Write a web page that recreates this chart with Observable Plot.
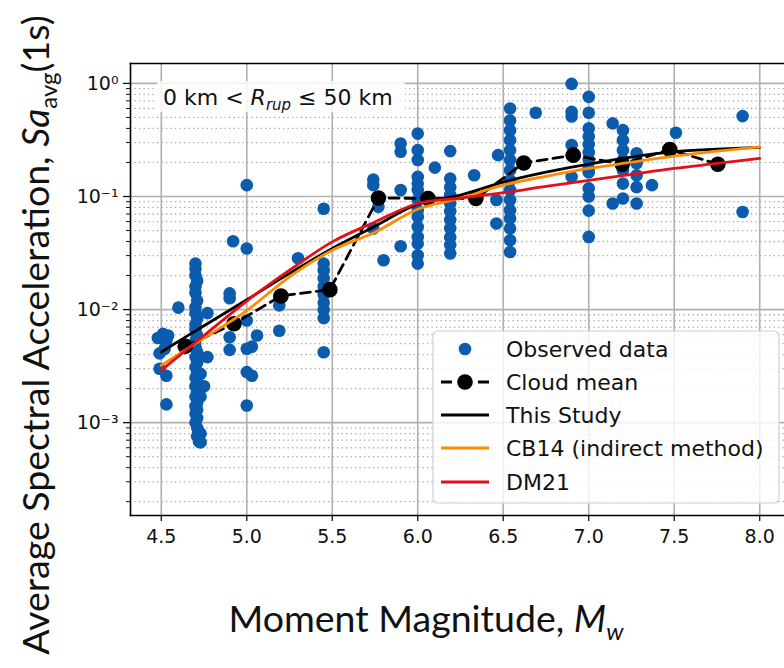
<!DOCTYPE html>
<html><head><meta charset="utf-8">
<script src="https://cdn.jsdelivr.net/npm/d3@7"></script>
<script src="https://cdn.jsdelivr.net/npm/@observablehq/plot@0.6"></script>
<style>
html,body{margin:0;padding:0;background:#fff;overflow:hidden}
svg{display:block}
</style>
</head><body><div id="chart"></div>
<script>
// ---------- data ----------
const observed = [
  [4.51,0.0061],[4.54,0.0059],[4.48,0.0056],[4.53,0.0053],[4.52,0.0045],[4.49,0.0041],[4.49,0.0030],[4.53,0.0026],[4.53,0.00145],[4.60,0.0104],
  [4.70,0.0255],[4.70,0.023],[4.70,0.020],[4.71,0.018],[4.70,0.016],[4.70,0.014],[4.71,0.012],[4.70,0.0105],[4.70,0.0093],[4.71,0.0083],
  [4.70,0.0074],[4.70,0.0066],[4.71,0.0059],[4.70,0.0053],[4.70,0.0047],[4.71,0.0042],[4.70,0.0038],[4.71,0.0034],[4.70,0.0031],[4.71,0.0028],
  [4.70,0.0025],[4.71,0.0023],[4.70,0.0021],[4.71,0.0019],[4.70,0.0017],[4.71,0.0015],[4.70,0.0014],[4.71,0.0013],[4.70,0.0012],[4.71,0.0011],
  [4.70,0.0010],[4.71,0.0009],[4.72,0.00082],[4.71,0.00076],[4.72,0.00068],
  [4.77,0.0093],[4.77,0.0038],[4.73,0.0027],[4.75,0.0021],[4.73,0.0017],[4.73,0.0008],[4.73,0.00067],
  [4.90,0.0139],[4.90,0.0126],[4.90,0.0057],[4.90,0.0044],[4.92,0.0402],[5.00,0.0347],[5.00,0.126],[5.00,0.0080],[5.00,0.0045],
  [5.03,0.0047],[5.00,0.0028],[5.03,0.0026],[5.00,0.00142],[5.06,0.0059],
  [5.19,0.0129],[5.19,0.0109],[5.19,0.0065],[5.30,0.0284],
  [5.45,0.078],[5.45,0.0255],[5.45,0.0223],[5.45,0.0189],[5.45,0.016],[5.45,0.0136],[5.45,0.0115],[5.45,0.0099],[5.45,0.0084],[5.45,0.0042],
  [5.74,0.141],[5.74,0.126],[5.77,0.081],[5.74,0.052],[5.80,0.0273],[5.90,0.114],[5.90,0.0363],[5.90,0.294],[5.90,0.249],
  [6.00,0.36],[6.00,0.257],[6.00,0.21],[6.00,0.149],[6.00,0.13],[6.00,0.114],[6.00,0.093],[6.00,0.0757],[6.00,0.066],[6.00,0.0538],
  [6.00,0.0439],[6.00,0.0383],[6.00,0.0302],[6.00,0.0255],
  [6.10,0.18],[6.19,0.252],[6.19,0.144],[6.19,0.121],[6.19,0.103],[6.19,0.087],[6.19,0.074],[6.19,0.062],[6.19,0.0525],[6.19,0.0437],
  [6.19,0.0372],[6.19,0.0313],[6.33,0.154],[6.46,0.0577],[6.46,0.093],[6.47,0.232],
  [6.54,0.60],[6.54,0.47],[6.54,0.385],[6.54,0.315],[6.54,0.257],[6.54,0.21],[6.54,0.171],[6.54,0.139],[6.54,0.114],[6.54,0.093],
  [6.54,0.0757],[6.54,0.0638],[6.54,0.052],[6.54,0.041],[6.54,0.0323],[6.69,0.55],
  [6.90,0.99],[6.90,0.56],[6.90,0.51],[6.90,0.285],[6.90,0.232],[6.90,0.149],
  [7.00,0.76],[7.00,0.55],[7.00,0.40],[7.00,0.34],[7.00,0.29],[7.00,0.246],[7.00,0.21],[7.00,0.177],[7.00,0.164],[7.00,0.118],
  [7.00,0.10],[7.00,0.075],[7.00,0.0439],
  [7.14,0.443],[7.14,0.0867],[7.20,0.386],[7.20,0.315],[7.20,0.257],[7.20,0.21],[7.20,0.171],[7.20,0.13],[7.20,0.096],
  [7.28,0.241],[7.28,0.197],[7.28,0.154],[7.28,0.121],[7.28,0.0867],[7.37,0.126],
  [7.51,0.366],[7.90,0.514],[7.90,0.0729]
];

const cloudMag = [4.64, 4.925, 5.20, 5.486, 5.77, 6.06, 6.34, 6.62, 6.91, 7.196, 7.474, 7.755];
const cloudSa  = [0.00473, 0.0075, 0.0132, 0.0150, 0.097, 0.096, 0.096, 0.198, 0.232, 0.193, 0.26, 0.193];

const curveMag  = [4.5, 4.75, 5.0, 5.25, 5.5, 5.75, 6.0, 6.25, 6.5, 6.75, 7.0, 7.25, 7.5, 7.75, 8.0];
const thisStudy = [0.00421, 0.0072, 0.0122, 0.0209, 0.0347, 0.0546, 0.0855, 0.103, 0.134, 0.164, 0.193, 0.223, 0.249, 0.262, 0.272];
const cb14      = [0.00321, 0.0056, 0.0098, 0.0195, 0.0335, 0.0483, 0.0772, 0.0966, 0.126, 0.151, 0.177, 0.201, 0.227, 0.252, 0.275];
const dm21      = [0.0029, 0.0059, 0.0119, 0.0223, 0.0397, 0.0596, 0.0867, 0.097, 0.108, 0.123, 0.139, 0.157, 0.177, 0.196, 0.217];

const xTicks = [4.5, 5.0, 5.5, 6.0, 6.5, 7.0, 7.5, 8.0];
const yTicks = [1, 0.1, 0.01, 0.001];
const yTickLabels = ["10⁰", "10⁻¹", "10⁻²", "10⁻³"];
const legendLabels = ["Observed data", "Cloud mean", "This Study", "CB14 (indirect method)", "DM21"];

// ---------- build ----------
const BLUE = "#0b5cad", ORANGE = "#ff8c00", RED = "#e3101c";
const yDomain = [1.51e-4, 1.5];
const minorY = [];
for (const dec of [1e-4, 1e-3, 1e-2, 1e-1]) for (let k = 2; k <= 9; k++) {
  const v = k * dec; if (v >= yDomain[0] && v <= yDomain[1]) minorY.push(v);
}
const obs = observed.map(([m, s]) => ({m, s}));
const cloud = cloudMag.map((m, i) => ({m, s: cloudSa[i]}));
const curves = (vals) => curveMag.map((m, i) => ({m, s: vals[i]}));

const plot = Plot.plot({
  width: 784, height: 668,
  marginLeft: 130, marginRight: 0, marginTop: 63, marginBottom: 153,
  style: {fontFamily: "DejaVu Sans", fontSize: "18px", color: "#111", background: "#fff"},
  x: {domain: [4.32, 8.145]},
  y: {type: "log", domain: yDomain},
  marks: [
    Plot.gridY(minorY, {stroke: "#a8a8a8", strokeOpacity: 1, strokeWidth: 1.3, strokeDasharray: "1.3,3.2"}),
    Plot.gridY(yTicks, {stroke: "#b0b0b0", strokeOpacity: 1, strokeWidth: 1.6}),
    Plot.gridX(xTicks, {stroke: "#b0b0b0", strokeOpacity: 1, strokeWidth: 1.6}),
    Plot.axisX(xTicks, {tickSize: 6, tickPadding: 8, tickFormat: d3.format(".1f"), label: null, fontSize: 19, strokeWidth: 1.3}),
    Plot.axisY(yTicks, {tickSize: 7, tickPadding: 5, tickFormat: (d) => yTickLabels[yTicks.indexOf(d)], label: null, fontSize: 19, strokeWidth: 1.3}),
    Plot.axisY(minorY, {tickSize: 4, text: null, label: null, strokeWidth: 1}),
    Plot.dot(obs, {x: "m", y: "s", r: 6.3, fill: BLUE, stroke: "none"}),
    Plot.line(cloud, {x: "m", y: "s", stroke: "black", strokeWidth: 2.8, strokeDasharray: "10,6"}),
    Plot.dot(cloud, {x: "m", y: "s", r: 7.8, fill: "black", stroke: "none"}),
    Plot.line(curves(thisStudy), {x: "m", y: "s", stroke: "black", strokeWidth: 2.8, curve: "catmull-rom"}),
    Plot.line(curves(cb14), {x: "m", y: "s", stroke: ORANGE, strokeWidth: 2.8, curve: "catmull-rom"}),
    Plot.line(curves(dm21), {x: "m", y: "s", stroke: RED, strokeWidth: 2.8, curve: "catmull-rom"}),
    Plot.frame({anchor: "left", stroke: "black", strokeWidth: 1.6}),
    Plot.frame({anchor: "top", stroke: "black", strokeWidth: 1.6}),
    Plot.frame({anchor: "bottom", stroke: "black", strokeWidth: 1.6})
  ]
});
document.getElementById("chart").appendChild(plot);

// ---------- annotations, legend and axis titles ----------
const svg = d3.select(plot);
const LABEL_FONT = "Lato, 'Open Sans', sans-serif";

// range annotation
const ann = svg.append("g").attr("text-anchor", "start");
ann.append("rect").attr("x", 157).attr("y", 81).attr("width", 248).attr("height", 31).attr("rx", 3)
  .attr("fill", "white").attr("fill-opacity", 0.85);
const annT = ann.append("text").attr("x", 163).attr("y", 97).attr("dy", "0.35em").attr("text-anchor", "start")
  .attr("font-family", "DejaVu Sans").attr("font-size", 22).attr("fill", "#111");
annT.append("tspan").text("0 km < ");
annT.append("tspan").attr("font-style", "italic").text("R");
annT.append("tspan").attr("font-style", "italic").attr("font-size", 15).attr("dy", 5).text("rup");
annT.append("tspan").attr("dy", -5).text(" ≤ 50 km");

// legend
const lg = svg.append("g").attr("text-anchor", "start");
lg.append("rect").attr("x", 433).attr("y", 331).attr("width", 346).attr("height", 172).attr("rx", 5)
  .attr("fill", "white").attr("fill-opacity", 0.82).attr("stroke", "#d0d0d0").attr("stroke-width", 1.2);
const rowY = [349, 382, 415, 448, 482];
lg.append("circle").attr("cx", 465).attr("cy", rowY[0]).attr("r", 6.3).attr("fill", BLUE);
lg.append("line").attr("x1", 441).attr("x2", 489).attr("y1", rowY[1]).attr("y2", rowY[1])
  .attr("stroke", "black").attr("stroke-width", 2.8).attr("stroke-dasharray", "11,26");
lg.append("circle").attr("cx", 465).attr("cy", rowY[1]).attr("r", 7.8).attr("fill", "black");
[["black", 2], [ORANGE, 3], [RED, 4]].forEach(([c, i]) => {
  lg.append("line").attr("x1", 441).attr("x2", 489).attr("y1", rowY[i]).attr("y2", rowY[i])
    .attr("stroke", c).attr("stroke-width", 2.8);
});
legendLabels.forEach((t, i) => {
  lg.append("text").attr("x", 506).attr("y", rowY[i]).attr("dy", "0.36em").attr("text-anchor", "start")
    .attr("font-family", "DejaVu Sans").attr("font-size", 22).attr("fill", "#111").text(t);
});

// y-axis title
const yt = svg.append("text").attr("transform", "translate(49,335) rotate(-90)")
  .attr("text-anchor", "middle").attr("font-family", LABEL_FONT).attr("font-size", 37.5).attr("fill", "#111");
yt.append("tspan").text("Average Spectral Acceleration, ");
yt.append("tspan").attr("font-style", "italic").text("Sa");
yt.append("tspan").attr("font-size", 24).attr("dy", 8).text("avg");
yt.append("tspan").attr("dy", -8).text("(1s)");

// x-axis title
const xt = svg.append("text").attr("x", 426).attr("y", 632)
  .attr("text-anchor", "middle").attr("font-family", LABEL_FONT).attr("font-size", 37.5).attr("fill", "#111");
xt.append("tspan").text("Moment Magnitude, ");
xt.append("tspan").attr("font-style", "italic").text("M");
xt.append("tspan").attr("font-style", "italic").attr("font-size", 24).attr("dy", 8).text("w");
</script>
</body></html>
